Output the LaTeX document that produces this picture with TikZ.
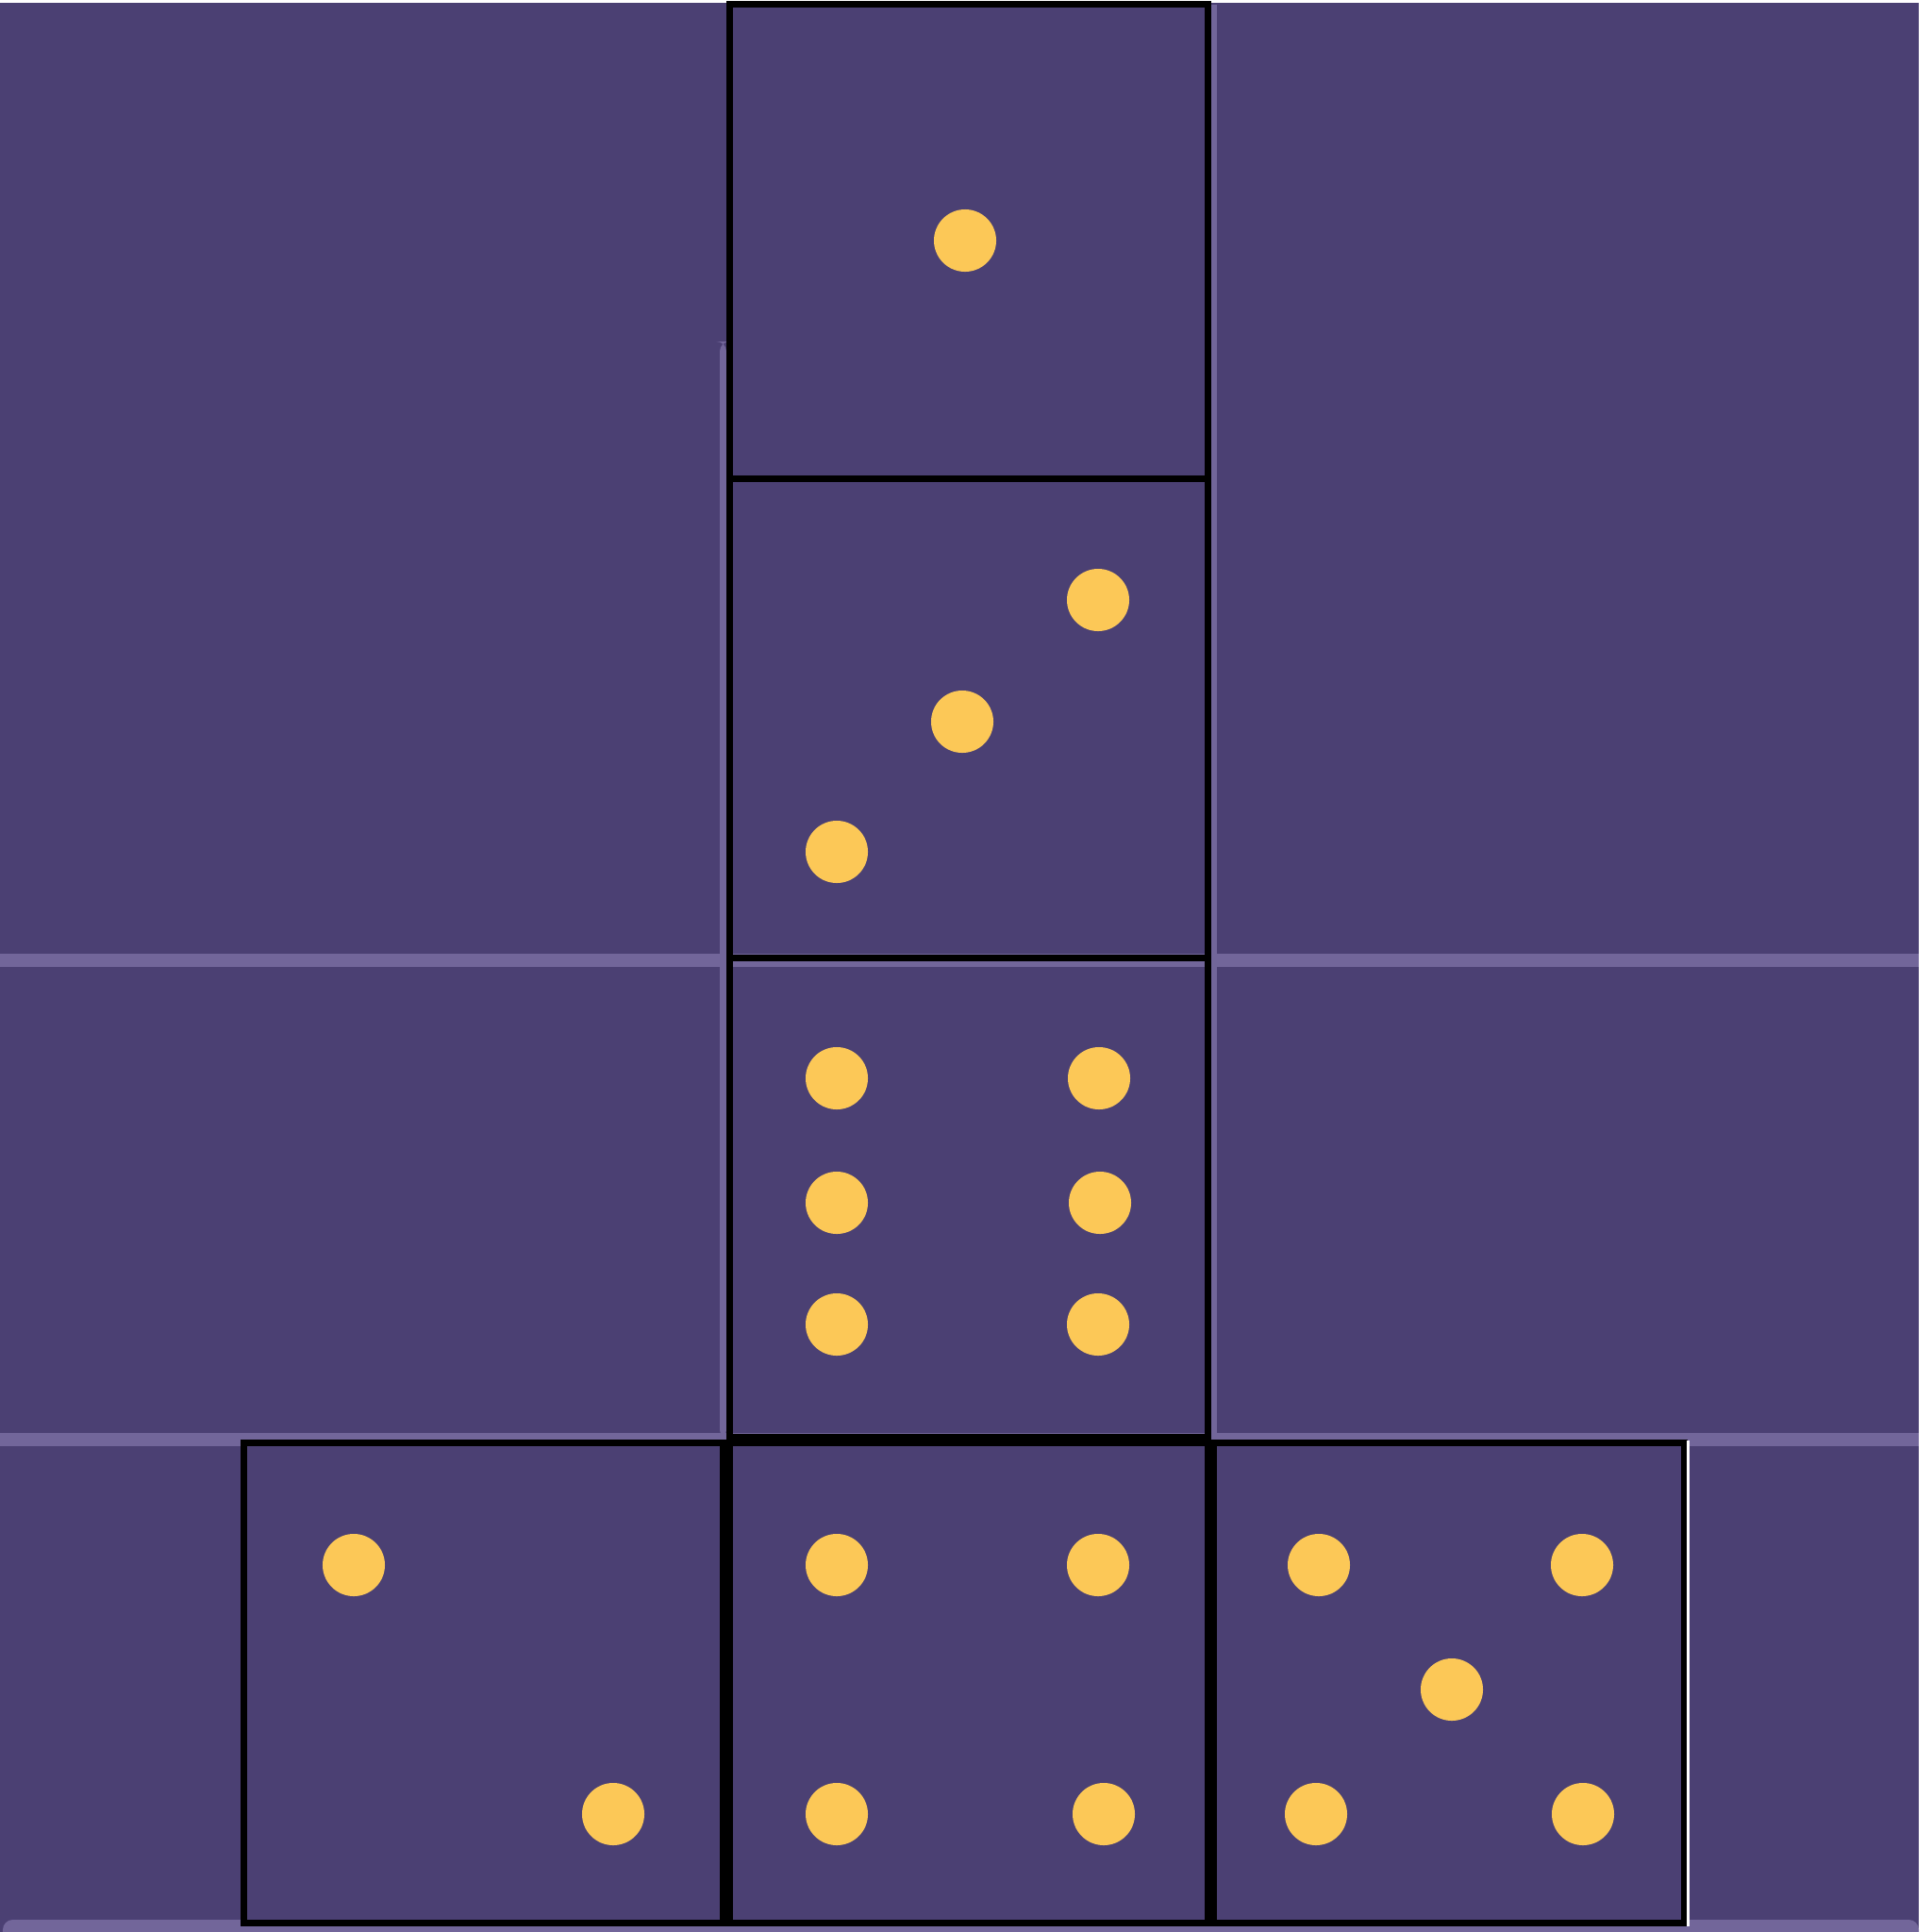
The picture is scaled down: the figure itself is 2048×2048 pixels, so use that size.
\documentclass[tikz,border=0pt]{standalone}
\usepackage{tikz}
\usetikzlibrary{positioning}
\definecolor{dicebg}{RGB}{75,64,115}
\definecolor{dicegrid}{RGB}{114,102,154}
\definecolor{dicepip}{RGB}{252,200,87}

\begin{document}
\begin{tikzpicture}[
      x=0.01cm, y=-0.01cm,
      face/.style={draw=black, line width=0.07cm, inner sep=0pt, outer sep=0pt, anchor=north west},
      pip/.style={circle, fill=dicepip, minimum size=0.66cm, inner sep=0pt},
      gridln/.style={fill=dicegrid}
    ]
      \def\px{0.01cm}
      % canvas and cell grid
      \fill[white] (0,0) rectangle (2048,2048);
      \useasboundingbox (0,0) rectangle (2048,2048);
      \fill[dicebg] (0,3) rectangle (2034,2048);
      \fill[gridln] (0,1011) rectangle (2034,1025);
      \fill[gridln] (0,1519) rectangle (2034,1533);
      \fill[gridln, rounded corners=3pt] (3,2035) rectangle (2034,2060);
      \fill[gridln, rounded corners=3pt] (763,362) rectangle (770,1526);
      \fill[gridln] (1283,5) rectangle (1290,1526);
      \fill[white] (0,2048) rectangle (2048,2060);

      % faces of the net
      \node[face, minimum width={507*\px}, minimum height={503*\px}] (one) at (773,4) {};
      \node[face, minimum width={507*\px}, minimum height={508*\px}] (three) at (773,507) {};
      \node[face, minimum width={507*\px}, minimum height={508*\px}] (six) at (773,1015) {};
      \node[face, minimum width={507*\px}, minimum height={509*\px}] (four) at (773,1529) {};
      \node[face, minimum width={508*\px}, minimum height={509*\px}] (two) at (258,1529.5) {};
      \node[face, minimum width={499*\px}, minimum height={509*\px}] (five) at (1286,1529.5) {};
      \draw[white, line width=0.03cm] (five.north east) ++(4.5,-3) -- ++(0,515);

      % pips
      \node[pip] (one-a) at (1023,255) {};

      \node[pip] (three-a) at (1164,636) {};
      \node[pip] (three-b) at (1020,765) {};
      \node[pip] (three-c) at (887,903) {};

      \node[pip] (six-a) at (887,1143) {};
      \node[pip] (six-b) at (1165,1143) {};
      \node[pip] (six-c) at (887,1275) {};
      \node[pip] (six-d) at (1166,1275) {};
      \node[pip] (six-e) at (887,1404) {};
      \node[pip] (six-f) at (1164,1404) {};

      \node[pip] (two-a) at (375,1659) {};
      \node[pip] (two-b) at (650,1923) {};

      \node[pip] (four-a) at (887,1659) {};
      \node[pip] (four-b) at (1164,1659) {};
      \node[pip] (four-c) at (887,1923) {};
      \node[pip] (four-d) at (1170,1923) {};

      \node[pip] (five-a) at (1398,1659) {};
      \node[pip] (five-b) at (1677,1659) {};
      \node[pip] (five-c) at (1539,1791) {};
      \node[pip] (five-d) at (1395,1923) {};
      \node[pip] (five-e) at (1678,1923) {};
    \end{tikzpicture}
\end{document}
